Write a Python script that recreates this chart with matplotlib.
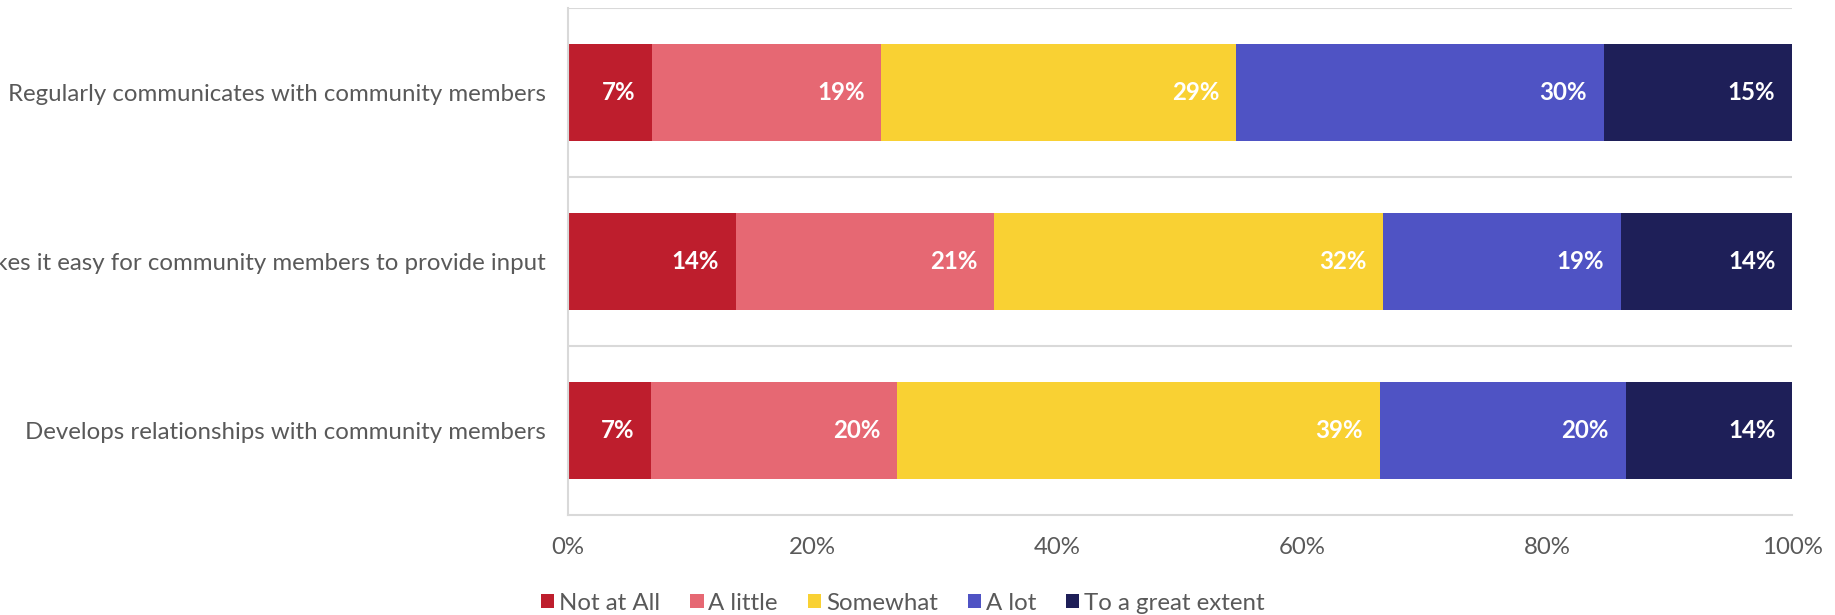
import matplotlib
matplotlib.use("Agg")
import matplotlib.pyplot as plt
from matplotlib.patches import Patch

plt.rcParams['font.family'] = ['Lato', 'DejaVu Sans']

categories = [
    "Regularly communicates with community members",
    "Makes it easy for community members to provide input",
    "Develops relationships with community members",
]
series_names = ["Not at All", "A little", "Somewhat", "A lot", "To a great extent"]
values = {
    "Not at All":        [6.9, 13.7, 6.8],
    "A little":          [18.7, 21.1, 20.1],
    "Somewhat":          [29.0, 31.8, 39.4],
    "A lot":             [30.0, 19.4, 20.1],
    "To a great extent": [15.4, 14.0, 13.6],
}
colors = ["#BE1E2D", "#E66873", "#F9D133", "#4F53C4", "#1E1F58"]
xticks = [0, 20, 40, 60, 80, 100]
xticklabels = ["0%", "20%", "40%", "60%", "80%", "100%"]

W, H = 1835, 615
fig = plt.figure(figsize=(W / 100, H / 100), dpi=100)
left, right, top, bottom = 568, 1792, 8, 515
ax = fig.add_axes([left / W, 1 - bottom / H, (right - left) / W, (bottom - top) / H])

FS = 17.3
ypos = list(range(len(categories)))
cum = [0.0] * len(categories)
for name, col in zip(series_names, colors):
    vals = values[name]
    ax.barh(ypos, vals, left=cum, height=0.57, color=col, label=name)
    for i, v in enumerate(vals):
        end = cum[i] + v
        ax.annotate(f"{round(v):d}%", xy=(end, i), xytext=(-12, 0),
                    textcoords="offset points", ha="right", va="center",
                    color="white", fontsize=FS, fontweight="bold")
    cum = [c + v for c, v in zip(cum, vals)]

ax.set_xlim(0, 100)
ax.set_ylim(len(categories) - 0.5, -0.5)
ax.set_yticks(ypos)
ax.set_yticklabels(categories, fontsize=FS, color="#595959")
ax.set_xticks(xticks)
ax.set_xticklabels(xticklabels, fontsize=FS, color="#595959")
ax.tick_params(axis="both", length=0)
ax.tick_params(axis="y", pad=16)
ax.tick_params(axis="x", pad=16)

for b in [-0.5, 0.5, 1.5]:
    ax.axhline(b, color="#D9D9D9", lw=1.5, zorder=0)
for s in ["top", "right"]:
    ax.spines[s].set_visible(False)
ax.spines["left"].set_color("#D9D9D9")
ax.spines["left"].set_linewidth(1.5)
ax.spines["bottom"].set_color("#D9D9D9")
ax.spines["bottom"].set_linewidth(1.5)

handles = [Patch(facecolor=c, label=n) for n, c in zip(series_names, colors)]
leg = fig.legend(handles=handles, loc="center", bbox_to_anchor=(903 / W, 1 - 603 / H),
                 ncol=5, frameon=False, fontsize=FS, handlelength=0.55, handleheight=0.55,
                 handletextpad=0.2, columnspacing=1.25, borderpad=0)
for t in leg.get_texts():
    t.set_color("#595959")

fig.savefig("out.png", dpi=100)
